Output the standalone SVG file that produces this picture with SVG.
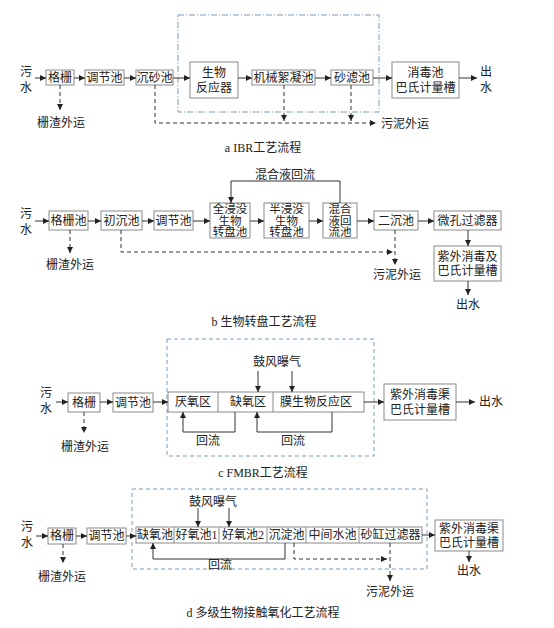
<svg xmlns="http://www.w3.org/2000/svg" width="554" height="628" viewBox="0 0 554 628">
<defs>
<marker id="ah" markerWidth="6" markerHeight="6" refX="6" refY="3" orient="auto" markerUnits="userSpaceOnUse"><path d="M0,0 L6,3 L0,6 z" fill="#222"/></marker>
<style>
text{font-family:"Liberation Serif","Noto Sans CJK SC",serif;font-size:12px;fill:#222;text-anchor:middle;dominant-baseline:central}
.box{fill:#fff;stroke:#8a8a8a;stroke-width:1}
.div{stroke:#8a8a8a;stroke-width:1}
.ln{fill:none;stroke:#333;stroke-width:1}
.arr{fill:none;stroke:#333;stroke-width:1;marker-end:url(#ah)}
.dash{fill:none;stroke:#333;stroke-width:1;stroke-dasharray:4,3;marker-end:url(#ah)}
.blue{fill:none;stroke:#7a9cc0;stroke-width:1;stroke-dasharray:4,3}
.bluedd{fill:none;stroke:#7a9cc0;stroke-width:1;stroke-dasharray:6,2,1,2}
.cap{font-size:12px}
.sm{font-size:11.5px}
</style>
</defs>

<!-- ===== Section a ===== -->
<g id="a-frame"><rect class="bluedd" x="178" y="15" width="201" height="97"/></g>
<g id="a-in"><text x="26" y="72">污</text><text x="26" y="88">水</text></g>
<g id="a-geshan"><rect class="box" x="46" y="70" width="28" height="15"/><text x="60" y="78">格栅</text></g>
<g id="a-tiaojie"><rect class="box" x="85" y="70" width="39" height="15"/><text x="104.5" y="78">调节池</text></g>
<g id="a-chensha"><rect class="box" x="136" y="70" width="37" height="15"/><text x="154.5" y="78">沉砂池</text></g>
<g id="a-bio"><rect class="box" x="190" y="62" width="48" height="36"/><text x="214" y="73">生物</text><text x="214" y="88">反应器</text></g>
<g id="a-floc"><rect class="box" x="252" y="70" width="63" height="15"/><text x="283.5" y="78">机械絮凝池</text></g>
<g id="a-sand"><rect class="box" x="331" y="70" width="42" height="15"/><text x="352" y="78">砂滤池</text></g>
<g id="a-disinf"><rect class="box" x="392" y="62" width="67" height="36"/><text x="425.5" y="73">消毒池</text><text x="425.5" y="88">巴氏计量槽</text></g>
<g id="a-out"><text x="486" y="72">出</text><text x="486" y="88">水</text></g>
<g id="a-zha"><text x="61" y="123">栅渣外运</text></g>
<g id="a-sludge"><text x="405" y="124">污泥外运</text></g>
<g id="a-cap"><text class="cap" x="263" y="148">a IBR工艺流程</text></g>
<g id="a-conn">
<line class="arr" x1="35" y1="78" x2="46" y2="78"/>
<line class="arr" x1="74" y1="78" x2="85" y2="78"/>
<line class="arr" x1="124" y1="78" x2="136" y2="78"/>
<line class="arr" x1="173" y1="78" x2="190" y2="78"/>
<line class="arr" x1="238" y1="78" x2="252" y2="78"/>
<line class="arr" x1="315" y1="78" x2="331" y2="78"/>
<line class="arr" x1="373" y1="78" x2="392" y2="78"/>
<line class="arr" x1="459" y1="78" x2="477" y2="78"/>
<line class="dash" x1="60" y1="85" x2="60" y2="110"/>
<path class="dash" d="M155,85 V123 H376"/>
<line class="dash" x1="284" y1="85" x2="284" y2="121"/>
<line class="dash" x1="351" y1="85" x2="351" y2="121"/>
</g>

<!-- ===== Section b ===== -->
<g id="b-in"><text x="26" y="214">污</text><text x="26" y="230">水</text></g>
<g id="b-geshan"><rect class="box" x="49" y="211" width="39" height="19"/><text x="68.5" y="220.5">格栅池</text></g>
<g id="b-chuchen"><rect class="box" x="101" y="211" width="41" height="19"/><text x="121.5" y="220.5">初沉池</text></g>
<g id="b-tiaojie"><rect class="box" x="154" y="211" width="39" height="19"/><text x="173.5" y="220.5">调节池</text></g>
<g id="b-quan"><rect class="box" x="210" y="203" width="40" height="35"/><text class="sm" x="230" y="209">全浸没</text><text class="sm" x="230" y="220.5">生物</text><text class="sm" x="230" y="232">转盘池</text></g>
<g id="b-ban"><rect class="box" x="264" y="203" width="45" height="35"/><text class="sm" x="286.5" y="209">半浸没</text><text class="sm" x="286.5" y="220.5">生物</text><text class="sm" x="286.5" y="232">转盘池</text></g>
<g id="b-hunhe"><rect class="box" x="323" y="203" width="34" height="35"/><text class="sm" x="340" y="209">混合</text><text class="sm" x="340" y="220.5">液回</text><text class="sm" x="340" y="232">流池</text></g>
<g id="b-erchen"><rect class="box" x="374" y="211" width="44" height="19"/><text x="396" y="220.5">二沉池</text></g>
<g id="b-weikong"><rect class="box" x="434" y="211" width="67" height="19"/><text x="467.5" y="220.5">微孔过滤器</text></g>
<g id="b-uv"><rect class="box" x="434" y="246" width="67" height="35"/><text x="467.5" y="257">紫外消毒及</text><text x="467.5" y="271">巴氏计量槽</text></g>
<g id="b-out"><text x="468" y="305">出水</text></g>
<g id="b-hl"><text x="285" y="175">混合液回流</text></g>
<g id="b-zha"><text x="70" y="265">栅渣外运</text></g>
<g id="b-sludge"><text x="397" y="275">污泥外运</text></g>
<g id="b-cap"><text class="cap" x="264" y="322">b 生物转盘工艺流程</text></g>
<g id="b-conn">
<line class="arr" x1="35" y1="221" x2="49" y2="221"/>
<line class="arr" x1="88" y1="221" x2="101" y2="221"/>
<line class="arr" x1="142" y1="221" x2="154" y2="221"/>
<line class="arr" x1="193" y1="221" x2="210" y2="221"/>
<line class="arr" x1="250" y1="221" x2="264" y2="221"/>
<line class="arr" x1="309" y1="221" x2="323" y2="221"/>
<line class="arr" x1="357" y1="221" x2="374" y2="221"/>
<line class="arr" x1="418" y1="221" x2="434" y2="221"/>
<line class="arr" x1="468" y1="230" x2="468" y2="246"/>
<line class="arr" x1="468" y1="281" x2="468" y2="295"/>
<path class="arr" d="M340,203 V181 H231 V203"/>
<line class="dash" x1="70" y1="230" x2="70" y2="253"/>
<path class="dash" d="M121,230 V252 H393"/>
<line class="dash" x1="395" y1="230" x2="395" y2="265"/>
</g>

<!-- ===== Section c ===== -->
<g id="c-frame"><rect class="blue" x="167" y="339" width="207" height="117"/></g>
<g id="c-in"><text x="46" y="393">污</text><text x="46" y="409">水</text></g>
<g id="c-geshan"><rect class="box" x="68" y="393" width="32" height="19"/><text x="84" y="402.5">格栅</text></g>
<g id="c-tiaojie"><rect class="box" x="113" y="393" width="40" height="19"/><text x="133" y="402.5">调节池</text></g>
<g id="c-fmbr"><rect class="box" x="168" y="392" width="196" height="20"/><line class="div" x1="218" y1="392" x2="218" y2="412"/><line class="div" x1="273" y1="392" x2="273" y2="412"/><text x="193" y="402">厌氧区</text><text x="248" y="402">缺氧区</text><text x="316" y="402">膜生物反应区</text></g>
<g id="c-uv"><rect class="box" x="384" y="384" width="72" height="36"/><text x="420" y="395">紫外消毒渠</text><text x="420" y="410">巴氏计量槽</text></g>
<g id="c-out"><text x="491" y="402">出水</text></g>
<g id="c-air"><text x="277" y="362">鼓风曝气</text></g>
<g id="c-hl"><text x="208" y="441">回流</text><text x="293" y="441">回流</text></g>
<g id="c-zha"><text x="85" y="447">栅渣外运</text></g>
<g id="c-cap"><text class="cap" x="263" y="473">c FMBR工艺流程</text></g>
<g id="c-conn">
<line class="arr" x1="56" y1="402" x2="68" y2="402"/>
<line class="arr" x1="100" y1="402" x2="113" y2="402"/>
<line class="arr" x1="153" y1="402" x2="168" y2="402"/>
<line class="arr" x1="364" y1="402" x2="384" y2="402"/>
<line class="arr" x1="456" y1="402" x2="475" y2="402"/>
<line class="arr" x1="258" y1="371" x2="258" y2="392"/>
<line class="arr" x1="292" y1="371" x2="292" y2="392"/>
<path class="arr" d="M235,412 V432 H183 V412"/>
<path class="arr" d="M332,412 V432 H257 V412"/>
<line class="dash" x1="84" y1="412" x2="84" y2="433"/>
</g>

<!-- ===== Section d ===== -->
<g id="d-frame"><rect class="blue" x="132" y="489" width="295" height="80"/></g>
<g id="d-in"><text x="27" y="527">污</text><text x="27" y="543">水</text></g>
<g id="d-geshan"><rect class="box" x="48" y="528" width="28" height="16"/><text x="62" y="536">格栅</text></g>
<g id="d-tiaojie"><rect class="box" x="87" y="528" width="39" height="16"/><text x="106.5" y="536">调节池</text></g>
<g id="d-chain"><rect class="box" x="136" y="527" width="286" height="16"/>
<line class="div" x1="174" y1="527" x2="174" y2="543"/><line class="div" x1="219" y1="527" x2="219" y2="543"/><line class="div" x1="267" y1="527" x2="267" y2="543"/><line class="div" x1="306" y1="527" x2="306" y2="543"/><line class="div" x1="359" y1="527" x2="359" y2="543"/>
<text x="155" y="535">缺氧池</text><text x="196.5" y="535">好氧池1</text><text x="243" y="535">好氧池2</text><text x="286.5" y="535">沉淀池</text><text x="332.5" y="535">中间水池</text><text x="390.5" y="535">砂缸过滤器</text></g>
<g id="d-uv"><rect class="box" x="435" y="520" width="68" height="31"/><text x="469" y="529">紫外消毒渠</text><text x="469" y="543">巴氏计量槽</text></g>
<g id="d-out"><text x="469" y="571">出水</text></g>
<g id="d-air"><text x="213" y="502">鼓风曝气</text></g>
<g id="d-hl"><text x="220" y="565">回流</text></g>
<g id="d-zha"><text x="62" y="577">栅渣外运</text></g>
<g id="d-sludge"><text x="390" y="592">污泥外运</text></g>
<g id="d-cap"><text class="cap" x="263" y="613">d 多级生物接触氧化工艺流程</text></g>
<g id="d-conn">
<line class="arr" x1="36" y1="536" x2="48" y2="536"/>
<line class="arr" x1="76" y1="536" x2="87" y2="536"/>
<line class="arr" x1="126" y1="536" x2="136" y2="536"/>
<line class="arr" x1="422" y1="535" x2="435" y2="535"/>
<line class="arr" x1="469" y1="551" x2="469" y2="562"/>
<line class="arr" x1="198" y1="508" x2="198" y2="527"/>
<line class="arr" x1="229" y1="508" x2="229" y2="527"/>
<path class="arr" d="M285,543 V559 H153 V543"/>
<path class="dash" d="M294,543 V559 H387"/>
<line class="dash" x1="390" y1="543" x2="390" y2="581"/>
<line class="dash" x1="63" y1="544" x2="63" y2="563"/>
</g>
</svg>
